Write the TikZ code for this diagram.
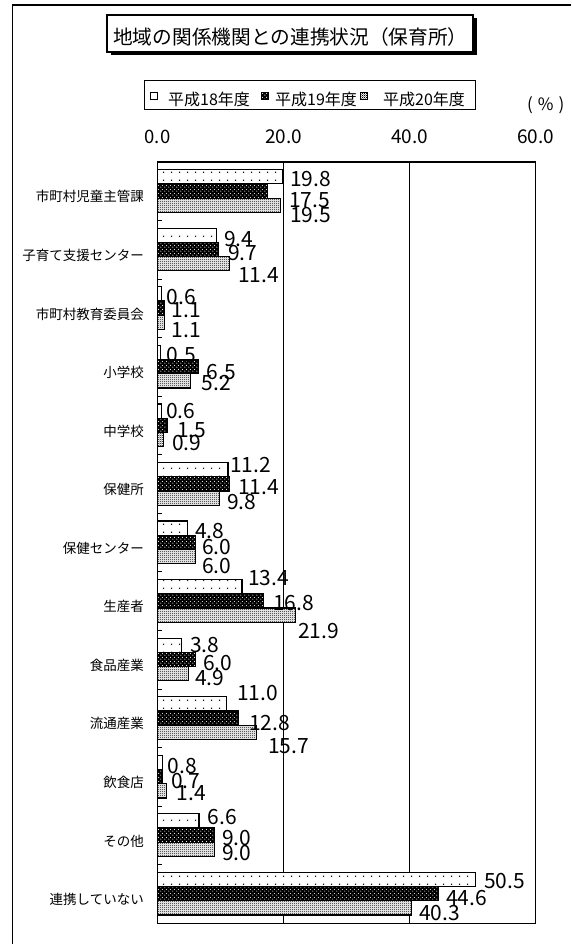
\documentclass[tikz,border=0pt]{standalone}
\usepackage{fontspec}
\setmainfont{Noto Sans CJK JP}
\usetikzlibrary{patterns}
\pgfdeclarepatternformonly{sparsedots}{\pgfpointorigin}{\pgfqpoint{8pt}{8pt}}{\pgfqpoint{8pt}{8pt}}{\pgfpathcircle{\pgfqpoint{4pt}{4pt}}{0.8pt}\pgfusepath{fill}}
\pgfdeclarepatternformonly{densedots}{\pgfpointorigin}{\pgfqpoint{4pt}{4pt}}{\pgfqpoint{4pt}{4pt}}{\pgfpathcircle{\pgfqpoint{1pt}{1pt}}{0.65pt}\pgfpathcircle{\pgfqpoint{3pt}{3pt}}{0.65pt}\pgfusepath{fill}}
\pgfdeclarepatternformonly{checker}{\pgfpointorigin}{\pgfqpoint{2pt}{2pt}}{\pgfqpoint{2pt}{2pt}}{\pgfpathrectangle{\pgfpointorigin}{\pgfqpoint{1pt}{1pt}}\pgfpathrectangle{\pgfqpoint{1pt}{1pt}}{\pgfqpoint{1pt}{1pt}}\pgfusepath{fill}}
\tikzset{
  bara/.style={preaction={fill=white}, pattern=sparsedots, pattern color=black, draw=black, line width=1.2pt},
  barb/.style={preaction={fill=black}, pattern=densedots, pattern color=white, draw=black, line width=1.2pt},
  barc/.style={preaction={fill=white}, pattern=checker, pattern color=black, draw=black, line width=1.2pt},
  vallab/.style={inner sep=0pt, anchor=base west, font=\fontsize{21}{21}\selectfont},
  catlab/.style={inner sep=0pt, anchor=base east, font=\fontsize{13.5}{13.5}\selectfont},
  axlab/.style={inner sep=0pt, anchor=base, font=\fontsize{18.5}{18.5}\selectfont},
  leglab/.style={inner sep=0pt, anchor=base west, font=\fontsize{16}{16}\selectfont},
}
\begin{document}
\begin{tikzpicture}[x=1pt,y=-1pt]
\useasboundingbox (0,0) rectangle (571,944);
\fill[white] (0,0) rectangle (571,944);
% outer frame (only left and top visible)
\draw[line width=1.3pt] (571,5) -- (12.7,5) -- (12.7,944);
% title
\fill[black] (110.5,18.5) rectangle (476.5,55.5);
\draw[line width=1.2pt, fill=white] (107,15) rectangle (473,52);
\node[inner sep=0pt, anchor=base west, font=\fontsize{19.7}{19.7}\selectfont] (title) at (113,44.2) {地域の関係機関との連携状況（保育所）};
% legend
\draw[line width=1pt] (144,81) rectangle (475,110);
\path[bara, line width=0.8pt] (150.5,92.5) rectangle (157.5,99.5);
\path[barb, line width=0.8pt] (261.5,92.5) rectangle (268.5,99.5);
\path[barc, line width=0.8pt] (360.5,92.5) rectangle (367.5,99.5);
\node[leglab] (l1) at (168,106) {平成18年度};
\node[leglab] (l2) at (275,106) {平成19年度};
\node[leglab] (l3) at (383,106) {平成20年度};
\node[inner sep=0pt, anchor=base west, font=\fontsize{17}{17}\selectfont] (pct) at (527,111) {(\hspace{5pt}\%\hspace{5pt})};
% axis labels
\node[axlab] (a0) at (157.5,143.4) {0.0};
\node[axlab, font=\fontsize{19}{19}\selectfont] (a20) at (283.5,143.4) {20.0};
\node[axlab, font=\fontsize{19}{19}\selectfont] (a40) at (409.5,143.4) {40.0};
\node[axlab, font=\fontsize{19}{19}\selectfont] (a60) at (535.5,143.4) {60.0};
% grid
\draw[line width=1pt] (283.5,162) -- (283.5,923.3);
\draw[line width=1pt] (409.5,162) -- (409.5,923.3);
% bars
\foreach \k/\lab/\va/\vb/\vc in {
 0/市町村児童主管課/19.8/17.5/19.5,
 1/子育て支援センター/9.4/9.7/11.4,
 2/市町村教育委員会/0.6/1.1/1.1,
 3/小学校/0.5/6.5/5.2,
 4/中学校/0.6/1.5/0.9,
 5/保健所/11.2/11.4/9.8,
 6/保健センター/4.8/6.0/6.0,
 7/生産者/13.4/16.8/21.9,
 8/食品産業/3.8/6.0/4.9,
 9/流通産業/11.0/12.8/15.7,
 10/飲食店/0.8/0.7/1.4,
 11/その他/6.6/9.0/9.0,
 12/連携していない/50.5/44.6/40.3}{
  \pgfmathsetmacro\T{162+58.56*\k}
  \path[bara] (157.5,{\T+7.7}) rectangle ({157.5+6.3*\va},{\T+21.9});
  \path[barb] (157.5,{\T+21.9}) rectangle ({157.5+6.3*\vb},{\T+36.1});
  \path[barc] (157.5,{\T+36.1}) rectangle ({157.5+6.3*\vc},{\T+50.3});
  \draw[line width=1pt] (157.5,\T) -- (162,\T);
  \node[catlab] (c\k) at (144,{\T+29.3+5.5+5.1}) {\lab};
}
\draw[line width=1.5pt] (157.5,162) rectangle (535.5,923.3);
% value labels
\foreach \k/\va/\vb/\vc/\xa/\da/\xb/\db/\xc/\dc in {
 0/19.8/17.5/19.5/290/1.7/289/8.5/290/9.8,
 1/9.4/9.7/11.4/224/3.6/228/2.9/238/11,
 2/0.6/1.1/1.1/166.7/2.8/171.7/2/171.7/8,
 3/0.5/6.5/5.2/166.7/2.5/206.7/5/201.7/2.4,
 4/0.6/1.5/0.9/166/0/177/4.8/172/3.6,
 5/11.2/11.4/9.8/230/-4.6/238/3.2/227/4,
 6/4.8/6.0/6.0/195/2.8/202/4.6/202/9.4,
 7/13.4/16.8/21.9/248/-9.2/273/2/298/15.4,
 8/3.8/6.0/4.9/190/0/203/3/195/4,
 9/11.0/12.8/15.7/237/-10.5/249/4.5/268/13.6,
 10/0.8/0.7/1.4/167.5/3/171/4/176.6/2.5,
 11/6.6/9.0/9.0/207.6/-4.5/222/2.3/222/4,
 12/50.5/44.6/40.3/484/1.3/446/3.8/419/4.6}{
  \pgfmathsetmacro\T{162+58.56*\k}
  \node[vallab] (va\k) at (\xa,{\T+14.8+\da+7.6}) {\va};
  \node[vallab] (vb\k) at (\xb,{\T+29.0+\db+7.6}) {\vb};
  \node[vallab] (vc\k) at (\xc,{\T+43.2+\dc+7.6}) {\vc};
}
\end{tikzpicture}
\end{document}
